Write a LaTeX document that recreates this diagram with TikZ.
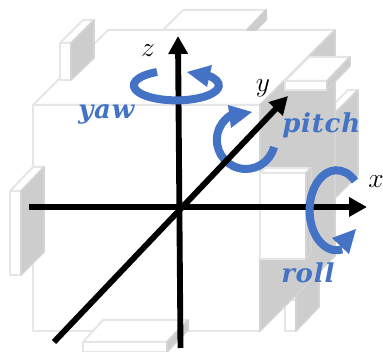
\documentclass[tikz,border=0pt]{standalone}
\usepackage{mathtools}
\usepackage{fontspec}
\usetikzlibrary{arrows.meta}
\newfontfamily\rotfont[LetterSpace=3]{DejaVu Serif}
\definecolor{rotblue}{HTML}{4472C4}
\definecolor{edgelight}{HTML}{E6E6E6}
\definecolor{edgedark}{HTML}{D4D4D4}
\definecolor{sidegray}{HTML}{CDCDCD}

\begin{document}
\begin{tikzpicture}[x=0.75pt, y=-0.75pt, >={Triangle[length=13.5pt, width=14pt]},
    whiteface/.style={draw=edgelight, fill=white, line width=1.5pt, line join=round},
    grayface/.style={draw=edgedark, fill=sidegray, line width=1.2pt, line join=round},
    axisline/.style={black, line width=4.4pt, ->},
    rotline/.style={rotblue, line width=6pt},
    rothead/.style={fill=rotblue},
    axislabel/.style={inner sep=0pt, black, font=\fontsize{22}{24}\selectfont},
    rotlabel/.style={inner sep=0pt, anchor=base west, rotblue, font=\rotfont\bfseries\itshape\fontsize{19.5}{22}\selectfont}]
  \useasboundingbox (0,0) rectangle (383,352);

  % Coordinates
  \coordinate (X0) at (29,207);
  \coordinate (X1) at (367,207);
  \coordinate (Y0) at (54,342);
  \coordinate (Y1) at (288,96);
  \coordinate (Z0) at (180.5,348);
  \coordinate (Z1) at (178,36);

  % Panels behind the right face
  \draw[whiteface] (335,103) -- (348,90) -- (358,90) -- (335,113) -- cycle;
  \draw[grayface] (335,113) -- (358,90) -- (358,175) -- (335,198) -- cycle;
  \draw[whiteface] (285,300) rectangle (296,331);
  \draw[grayface] (296,295) -- (319,272) -- (319,307) -- (296,331) -- cycle;

  % Cube faces
  \draw[whiteface] (33,105) rectangle (260,331);
  \draw[whiteface] (33,105) -- (108,30) -- (335,30) -- (260,105) -- cycle;
  \draw[grayface] (260,105) -- (335,30) -- (335,256) -- (260,331) -- cycle;

  % Tab on top
  \draw[whiteface] (163,30) -- (183,10) -- (266,10) -- (247,30) -- cycle;
  \draw[grayface, draw=sidegray] (247,30) -- (266,10) -- (266,20) -- (256,30) -- cycle;

  % Tab on back left
  \draw[whiteface] (60,43) -- (83,20) -- (94,20) -- (71,43) -- cycle;
  \draw[whiteface] (60,43) rectangle (71,80);
  \draw[grayface] (71,43) -- (94,20) -- (94,58) -- (71,80) -- cycle;

  % Tab on left
  \draw[whiteface] (10,191) -- (33,167) -- (44,167) -- (21,191) -- cycle;
  \draw[whiteface] (10,191) rectangle (21,275);
  \draw[grayface] (21,191) -- (44,167) -- (44,252) -- (21,275) -- cycle;

  % Tab at bottom
  \draw[whiteface] (83,342) -- (103,320) -- (188,320) -- (167,342) -- cycle;
  \draw[whiteface] (83,342) rectangle (167,352);
  \draw[grayface] (167,342) -- (188,320) -- (188,330) -- (167,352) -- cycle;

  % Tab on right, upper
  \draw[whiteface] (285,81) -- (309,57) -- (350,57) -- (327,81) -- cycle;
  \draw[whiteface] (285,81) rectangle (327,90);
  \draw[grayface] (327,81) -- (350,57) -- (350,66) -- (327,90) -- cycle;

  % Tab on right, middle
  \draw[whiteface] (260,173) -- (265,168) -- (311,168) -- (306,173) -- cycle;
  \draw[whiteface] (260,173) rectangle (306,259);
  \draw[grayface] (306,173) -- (311,168) -- (311,253) -- (306,259) -- cycle;

  % Pitch goes under the axes
  \draw[rotline] (274,147) arc[start angle=14, end angle=240, x radius=29, y radius=29];
  \fill[rothead] (252,112) -- (228,105) -- (231,128) -- cycle;

  % Axes
  \draw[axisline] (X0) -- (X1);
  \draw[axisline] (Y0) -- (Y1);
  \draw[axisline] (Z0) -- (Z1);

  % Yaw and roll go over the axes
  \draw[rotline] (157,72) arc[start angle=243, end angle=-40, x radius=42.5, y radius=15];
  \fill[rothead] (187,72) -- (212,65) -- (207,87) -- cycle;
  \draw[rotline] (355,181) arc[start angle=-47, end angle=-282, x radius=27, y radius=40];
  \fill[rothead] (356,229) -- (332,238) -- (349,254) -- cycle;

  % Labels
  \node[axislabel] (xlabel) at (376,182) {\(x\)};
  \node[axislabel] (ylabel) at (263,88) {\(y\)};
  \node[axislabel] (zlabel) at (148,51) {\(z\)};
  \node[rotlabel] (yawlabel) at (78,119) {yaw};
  \node[rotlabel] (pitchlabel) at (282,133) {pitch};
  \node[rotlabel] (rolllabel) at (281,283) {roll};
\end{tikzpicture}
\end{document}
